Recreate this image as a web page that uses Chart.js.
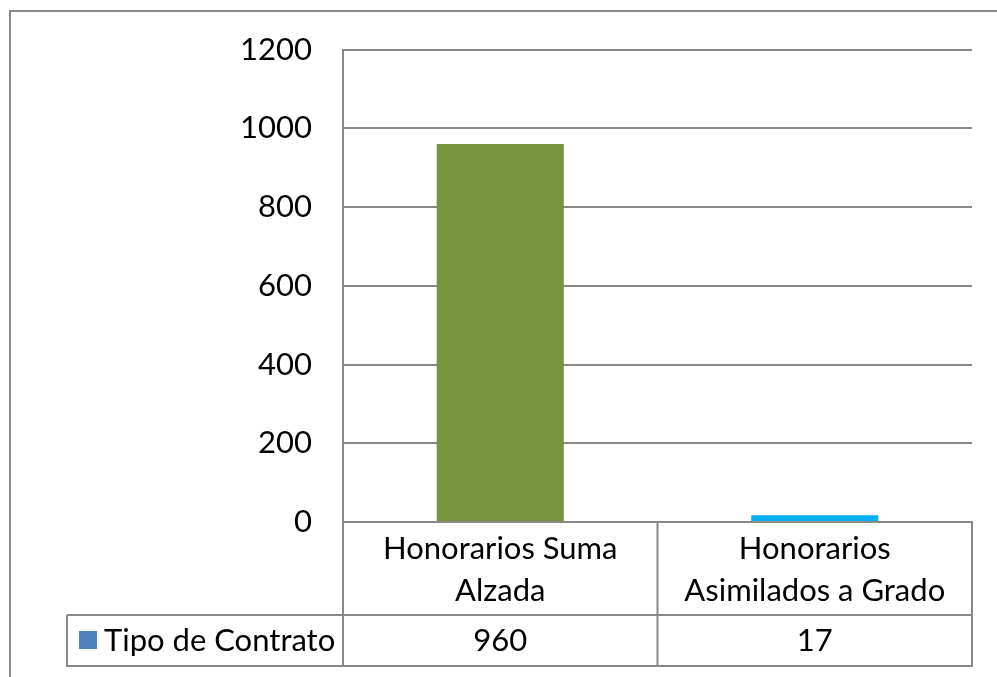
<!DOCTYPE html>
<html>
<head>
<meta charset="utf-8">
<script src="https://cdn.jsdelivr.net/npm/chart.js@4/dist/chart.umd.min.js"></script>
<style>
  html, body { margin: 0; padding: 0; background: #ffffff; }
  #wrap { width: 997px; height: 677px; position: relative; }
</style>
</head>
<body>
<div id="wrap"><canvas id="c" width="997" height="677"></canvas></div>
<script>
const categories = [["Honorarios Suma", "Alzada"], ["Honorarios", "Asimilados a Grado"]];
const seriesName = "Tipo de Contrato";
const seriesValues = [960, 17];
const barColors = ["#77933C", "#00B0F0"];
const legendColor = "#4F81BD";
const yTicks = [0, 200, 400, 600, 800, 1000, 1200];

const LINE = "#888888";
const FONT = "Lato";
const FSIZE = 31;

const tablePlugin = {
  id: "tablePlugin",
  beforeDraw(chart) {
    const ctx = chart.ctx;
    ctx.save();
    ctx.fillStyle = "#ffffff";
    ctx.fillRect(0, 0, chart.width, chart.height);
    ctx.strokeStyle = LINE;
    ctx.lineWidth = 2;
    ctx.strokeRect(10, 11, 1010, 700);
    ctx.restore();
  },
  afterDraw(chart) {
    const ctx = chart.ctx;
    const xs = chart.scales.x;
    const ca = chart.chartArea;
    const rowTop = ca.bottom + 93;
    const rowBot = ca.bottom + 144;
    const legendLeft = 67;
    const n = categories.length;
    const bounds = [];
    for (let i = 0; i <= n; i++) {
      bounds.push(ca.left + (ca.right - ca.left) * i / n);
    }
    ctx.save();
    ctx.strokeStyle = LINE;
    ctx.lineWidth = 2;
    ctx.beginPath();
    ctx.moveTo(legendLeft, rowTop); ctx.lineTo(ca.right, rowTop);
    ctx.moveTo(legendLeft, rowBot); ctx.lineTo(ca.right, rowBot);
    ctx.moveTo(legendLeft, rowTop); ctx.lineTo(legendLeft, rowBot + 1);
    for (let i = 0; i <= n; i++) {
      ctx.moveTo(bounds[i], ca.bottom); ctx.lineTo(bounds[i], rowBot + 1);
    }
    ctx.stroke();
    ctx.fillStyle = legendColor;
    ctx.fillRect(79, rowTop + 16, 18, 18);
    ctx.fillStyle = "#000000";
    ctx.font = FSIZE + "px " + FONT;
    ctx.textBaseline = "middle";
    ctx.textAlign = "left";
    const cy = (rowTop + rowBot) / 2;
    ctx.fillText(seriesName, 104, cy);
    ctx.textAlign = "center";
    for (let i = 0; i < n; i++) {
      ctx.fillText(String(seriesValues[i]), xs.getPixelForValue(i), cy);
    }
    ctx.restore();
  }
};

new Chart(document.getElementById("c"), {
  type: "bar",
  data: {
    labels: categories,
    datasets: [{
      label: seriesName,
      data: seriesValues,
      backgroundColor: barColors,
      borderWidth: 0,
      barPercentage: 1,
      categoryPercentage: 0.404
    }]
  },
  options: {
    responsive: false,
    animation: false,
    devicePixelRatio: 1,
    layout: { padding: { top: 47, right: 25, bottom: 0, left: 0 } },
    plugins: { legend: { display: false }, tooltip: { enabled: false } },
    scales: {
      x: {
        grid: { display: false, drawTicks: false },
        border: { display: true, color: LINE, width: 2 },
        ticks: {
          color: "#000000",
          font: { family: FONT, size: FSIZE, lineHeight: 42 / FSIZE },
          padding: 6,
          maxRotation: 0,
          autoSkip: false
        },
        afterFit(scale) { scale.height = 155; }
      },
      y: {
        min: 0,
        max: 1200,
        afterBuildTicks(scale) { scale.ticks = yTicks.map(v => ({ value: v })); },
        grid: { color: LINE, lineWidth: 2, drawTicks: false },
        border: { display: true, color: LINE, width: 2 },
        ticks: {
          color: "#000000",
          font: { family: FONT, size: FSIZE },
          padding: 31,
          callback: (v) => String(v)
        },
        afterFit(scale) { scale.width = 343; }
      }
    }
  },
  plugins: [tablePlugin]
});
</script>
</body>
</html>
